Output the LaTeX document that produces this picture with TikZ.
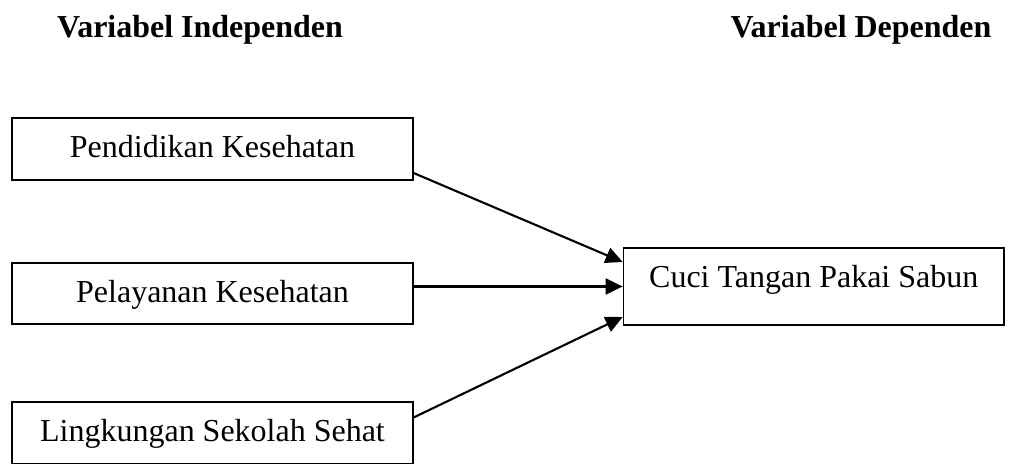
\documentclass[tikz,border=0pt]{standalone}
\usepackage{fontspec}
\setmainfont{Liberation Serif}
\usetikzlibrary{arrows.meta}
\tikzset{box/.style={draw=black,line width=1pt,align=center,minimum width=8.02cm,minimum height=1.23cm,inner sep=0pt,text height=0.44cm,text depth=0.08cm,font=\fontsize{18.2}{22}\selectfont},arrow/.style={-{Triangle[length=0.34cm,width=0.32cm]},line width=1.2pt},head/.style={font=\bfseries\fontsize{18.2}{22}\selectfont,inner sep=0pt}}

\begin{document}
\begin{tikzpicture}
\useasboundingbox (0,0) rectangle (20.3,-9.28);
\node[head] (ind) at (4.0,-0.6) {Variabel Independen};
\node[head] (dep) at (17.22,-0.6) {Variabel Dependen};
\node[box] (pend) at (4.25,-2.98) {Pendidikan Kesehatan};
\node[box] (pela) at (4.25,-5.87) {Pelayanan Kesehatan};
\node[box] (ling) at (4.25,-8.66) {Lingkungan Sekolah Sehat};
\node[box,minimum width=7.61cm,minimum height=1.54cm,text height=0.45cm,text depth=0.39cm] (cuci) at (16.275,-5.73) {Cuci Tangan Pakai Sabun};
\draw[arrow]([yshift=0.15cm]pend.south east)--([yshift=0.49cm]cuci.west);
\draw[arrow](pela.east |- cuci.west)--(cuci.west);
\draw[arrow]([yshift=-0.32cm]ling.north east)--([yshift=-0.61cm]cuci.west);
\end{tikzpicture}
\end{document}
